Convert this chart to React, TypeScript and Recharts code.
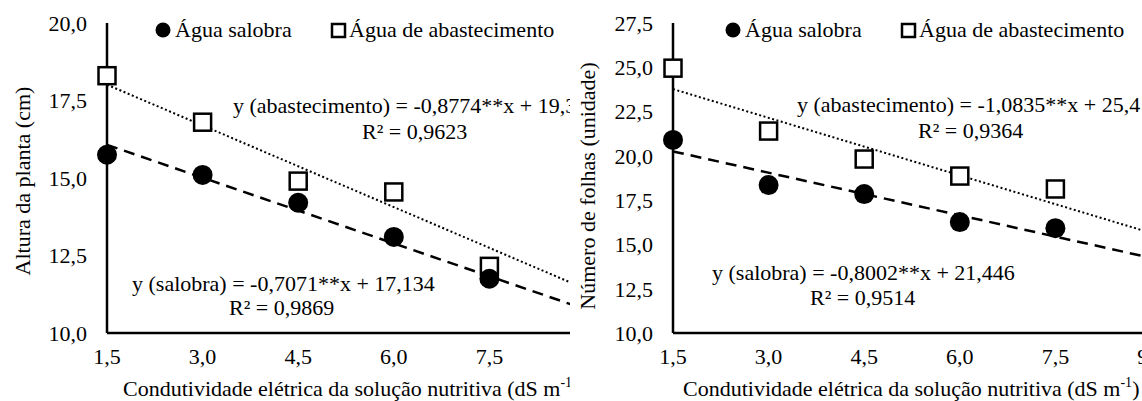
import React from 'react';
import { ComposedChart, Scatter, Line, XAxis, YAxis } from 'recharts';

// condutividade elétrica (dS m-1)
const ecLevels = [1.5, 3.0, 4.5, 6.0, 7.5];
const xTicks = [1.5, 3.0, 4.5, 6.0, 7.5, 9.0];
const trendX = [1.5, 9.0];

// altura da planta (cm)
const alturaSalobra = [15.75, 15.1, 14.2, 13.1, 11.75];
const alturaAbast = [18.3, 16.8, 14.9, 14.55, 12.15];
const alturaSalobraTrend = [16.07, 10.77];
const alturaAbastTrend = [18.01, 11.43];
const alturaTicks = [10, 12.5, 15, 17.5, 20];

// número de folhas (unidade)
const folhasSalobra = [20.9, 18.35, 17.84, 16.26, 15.92];
const folhasAbast = [24.95, 21.4, 19.82, 18.86, 18.13];
const folhasSalobraTrend = [20.25, 14.24];
const folhasAbastTrend = [23.77, 15.65];
const folhasTicks = [10, 12.5, 15, 17.5, 20, 22.5, 25, 27.5];

const FONT = "'Times New Roman', 'Liberation Serif', Times, 'DejaVu Serif', serif";
const fmt = (v: number) => v.toFixed(1).replace('.', ',');
const toPts = (xs: number[], ys: number[]) => xs.map((x, i) => ({ x, y: ys[i] }));

const Dot = (p: any) => <circle cx={p.cx} cy={p.cy} r={10} fill="#000" />;
const Box = (p: any) => (
  <rect x={p.cx - 8.5} y={p.cy - 8.5} width={17} height={17} fill="#fff" stroke="#000" strokeWidth={2.5} />
);

type PanelProps = {
  left: number;
  width: number;
  marginLeft: number;
  marginRight: number;
  salobra: number[];
  abast: number[];
  salobraTrend: number[];
  abastTrend: number[];
  yTicks: number[];
  yTitle: string;
  yTitleX: number;
  yTitleY: number;
  abEq: string;
  abR2: string;
  abEqPos: [number, number];
  abR2Pos: [number, number];
  salEq: string;
  salR2: string;
  salEqPos: [number, number];
  salR2Pos: [number, number];
  xTitleX: number;
};

const Panel: React.FC<PanelProps> = (p) => {
  const tickStyle = { fill: '#000', fontSize: 22, fontFamily: FONT };
  const axisLine = { stroke: '#000', strokeWidth: 2.5 };
  return (
    <div style={{ position: 'absolute', left: p.left, top: 0, width: p.width, height: 401, overflow: 'hidden', fontFamily: FONT }}>
      <ComposedChart
        width={620}
        height={401}
        margin={{ top: 23, right: p.marginRight, bottom: 38, left: p.marginLeft }}
      >
        <XAxis
          type="number"
          dataKey="x"
          domain={[1.5, 9]}
          ticks={xTicks}
          interval={0}
          tickFormatter={fmt}
          axisLine={axisLine}
          tickLine={false}
          tickSize={0}
          tickMargin={15}
          height={30}
          tick={tickStyle}
        />
        <YAxis
          type="number"
          dataKey="y"
          domain={[p.yTicks[0], p.yTicks[p.yTicks.length - 1]]}
          ticks={p.yTicks}
          interval={0}
          tickFormatter={fmt}
          axisLine={axisLine}
          tickLine={false}
          tickSize={0}
          tickMargin={20}
          width={60}
          tick={tickStyle}
        />
        <Line
          data={toPts(trendX, p.abastTrend)}
          dataKey="y"
          stroke="#000"
          strokeWidth={2}
          strokeDasharray="2 2.5"
          dot={false}
          activeDot={false}
          isAnimationActive={false}
        />
        <Line
          data={toPts(trendX, p.salobraTrend)}
          dataKey="y"
          stroke="#000"
          strokeWidth={2.5}
          strokeDasharray="11 7"
          dot={false}
          activeDot={false}
          isAnimationActive={false}
        />
        <Scatter data={toPts(ecLevels, p.abast)} dataKey="y" shape={Box} isAnimationActive={false} />
        <Scatter data={toPts(ecLevels, p.salobra)} dataKey="y" shape={Dot} isAnimationActive={false} />
      </ComposedChart>
      <svg
        width={620}
        height={401}
        style={{ position: 'absolute', left: 0, top: 0, pointerEvents: 'none' }}
        fontFamily={FONT}
        fontSize={22}
        fill="#000"
      >
        {/* legenda */}
        <circle cx={163} cy={30} r={7.5} fill="#000" />
        <text x={175} y={37}>Água salobra</text>
        <rect x={332} y={24} width={13} height={13} fill="#fff" stroke="#000" strokeWidth={2.5} />
        <text x={349} y={37}>Água de abastecimento</text>
        {/* equações */}
        <text x={p.abEqPos[0]} y={p.abEqPos[1]}>{p.abEq}</text>
        <text x={p.abR2Pos[0]} y={p.abR2Pos[1]}>{p.abR2}</text>
        <text x={p.salEqPos[0]} y={p.salEqPos[1]}>{p.salEq}</text>
        <text x={p.salR2Pos[0]} y={p.salR2Pos[1]}>{p.salR2}</text>
        {/* títulos dos eixos */}
        <text x={p.yTitleX} y={p.yTitleY} textAnchor="middle" transform={`rotate(-90 ${p.yTitleX} ${p.yTitleY})`}>
          {p.yTitle}
        </text>
        <text x={p.xTitleX} y={396}>
          Condutividade elétrica da solução nutritiva (dS m
          <tspan fontSize={14} dy={-9}>-1</tspan>
          <tspan dy={9}>)</tspan>
        </text>
      </svg>
    </div>
  );
};

const App: React.FC = () => {
  return (
    <div style={{ position: 'fixed', left: 0, top: 0, width: 1142, height: 401, background: '#fff', overflow: 'hidden' }}>
      <Panel
        left={0}
        width={570}
        marginLeft={47}
        marginRight={35}
        salobra={alturaSalobra}
        abast={alturaAbast}
        salobraTrend={alturaSalobraTrend}
        abastTrend={alturaAbastTrend}
        yTicks={alturaTicks}
        yTitle="Altura da planta (cm)"
        yTitleX={30}
        yTitleY={181}
        abEq="y (abastecimento) = -0,8774**x + 19,33"
        abR2="R² = 0,9623"
        abEqPos={[233, 113]}
        abR2Pos={[362, 139]}
        salEq="y (salobra) = -0,7071**x + 17,134"
        salR2="R² = 0,9869"
        salEqPos={[132, 291]}
        salR2Pos={[229, 315]}
        xTitleX={123}
      />
      <Panel
        left={570}
        width={572}
        marginLeft={43}
        marginRight={39}
        salobra={folhasSalobra}
        abast={folhasAbast}
        salobraTrend={folhasSalobraTrend}
        abastTrend={folhasAbastTrend}
        yTicks={folhasTicks}
        yTitle="Número de folhas (unidade)"
        yTitleX={25}
        yTitleY={186}
        abEq="y (abastecimento) = -1,0835**x + 25,4"
        abR2="R² = 0,9364"
        abEqPos={[227, 112]}
        abR2Pos={[348, 138]}
        salEq="y (salobra) = -0,8002**x + 21,446"
        salR2="R² = 0,9514"
        salEqPos={[142, 280]}
        salR2Pos={[240, 305]}
        xTitleX={113}
      />
    </div>
  );
};

export default App;
